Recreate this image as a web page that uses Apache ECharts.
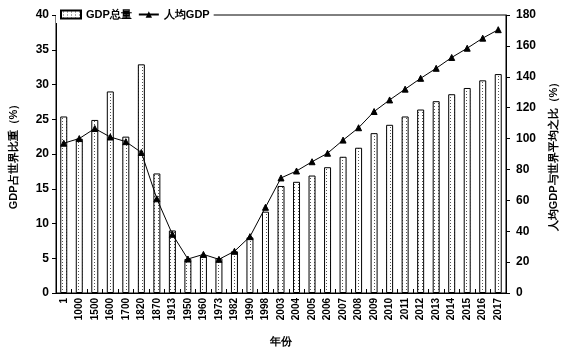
<!DOCTYPE html>
<html><head><meta charset="utf-8">
<script src="https://cdn.jsdelivr.net/npm/echarts@6/dist/echarts.min.js"></script>
<style>html,body{margin:0;padding:0;background:#fff}#c{width:567px;height:352px}</style>
</head><body><div id="c"></div>
<script>
const years = ['1','1000','1500','1600','1700','1820','1870','1913','1950','1960','1973','1982','1990','1998','2003','2004','2005','2006','2007','2008','2009','2010','2011','2012','2013','2014','2015','2016','2017'];
const gdpShare = [25.4,22.2,24.9,29.0,22.5,32.9,17.2,9.0,4.9,5.3,5.0,6.0,8.0,11.7,15.4,16.0,16.9,18.1,19.6,20.9,23.0,24.2,25.4,26.4,27.6,28.6,29.5,30.6,31.5];
const perCapitaRatio = [97,100,106.5,101,98,91,61,38,22,25,21.8,27,36.5,55.5,74.5,79,85,90.5,99,107,117.5,125,132,139,145.5,152.5,158.5,165,170.5];
const seriesNames = ['GDP总量','人均GDP'];
const leftName = 'GDP占世界比重（%）';
const rightName = '人均GDP与世界平均之比（%）';
const xName = '年份';

const cv = document.createElement('canvas');
cv.width = 4; cv.height = 3;
const ctx = cv.getContext('2d');
ctx.fillStyle = '#fff'; ctx.fillRect(0,0,4,3);
ctx.fillStyle = '#555'; ctx.fillRect(2,1,1,1);
const pattern = {image: cv, repeat: 'repeat'};

const font = {fontFamily: 'Liberation Sans, Arial, sans-serif', fontWeight: 'bold', color: '#000'};
const chart = echarts.init(document.getElementById('c'), null, {renderer: 'canvas'});
chart.setOption({
  animation: false,
  backgroundColor: '#fff',
  grid: {left: 52, right: 58, top: 15, bottom: 57, show: true, borderColor: '#000', borderWidth: 1, backgroundColor: 'transparent'},
  legend: {
    left: 56, top: 6, padding: [3, 4], itemGap: 6, itemWidth: 20, itemHeight: 8,
    backgroundColor: '#fff',
    textStyle: Object.assign({fontSize: 11}, font),
    data: [{name: seriesNames[0], icon: 'rect'}, {name: seriesNames[1]}]
  },
  xAxis: {
    type: 'category', data: years,
    name: xName, nameLocation: 'middle', nameGap: 43,
    nameTextStyle: Object.assign({fontSize: 11}, font),
    axisLine: {lineStyle: {color: '#000', width: 1}},
    axisTick: {show: true, inside: true, length: 4, interval: 0, lineStyle: {color: '#000'}},
    axisLabel: Object.assign({rotate: 90, interval: 0, fontSize: 10, margin: 5}, font),
    splitLine: {show: false}
  },
  yAxis: [{
    type: 'value', min: 0, max: 40, interval: 5,
    name: leftName, nameLocation: 'middle', nameGap: 37, nameRotate: 90,
    nameTextStyle: Object.assign({fontSize: 11}, font),
    axisLine: {show: true, lineStyle: {color: '#000'}},
    axisTick: {show: true, length: 4, lineStyle: {color: '#000'}},
    axisLabel: Object.assign({fontSize: 12, margin: 7}, font),
    splitLine: {show: false}
  }, {
    type: 'value', min: 0, max: 180, interval: 20, position: 'right',
    name: rightName, nameLocation: 'middle', nameGap: 42, nameRotate: 90,
    nameTextStyle: Object.assign({fontSize: 11}, font),
    axisLine: {show: true, lineStyle: {color: '#000'}},
    axisTick: {show: true, length: 4, lineStyle: {color: '#000'}},
    axisLabel: Object.assign({fontSize: 12, margin: 10}, font),
    splitLine: {show: false}
  }],
  series: [{
    name: seriesNames[0], type: 'bar', yAxisIndex: 0, data: gdpShare, barWidth: 7,
    itemStyle: {color: pattern, borderColor: '#000', borderWidth: 1}
  }, {
    name: seriesNames[1], type: 'line', yAxisIndex: 1, data: perCapitaRatio,
    symbol: 'triangle', symbolSize: 6, z: 5,
    lineStyle: {color: '#000', width: 1},
    itemStyle: {color: '#000', borderColor: '#000'}
  }]
});
</script></body></html>
